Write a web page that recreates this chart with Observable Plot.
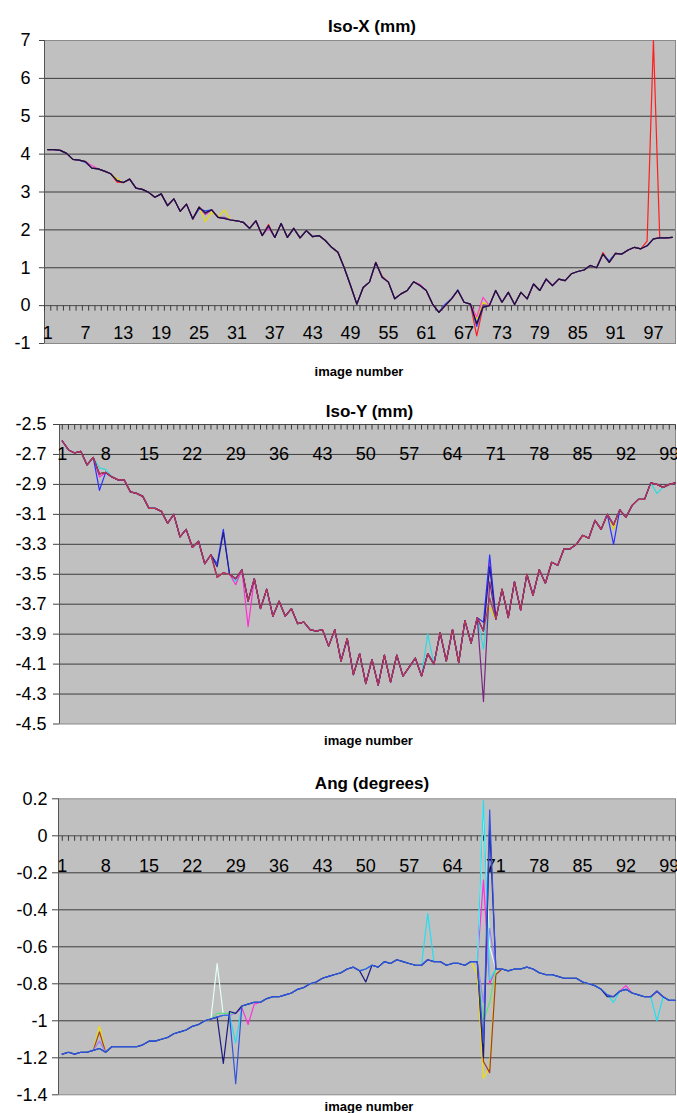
<!DOCTYPE html>
<html><head><meta charset="utf-8">
<script src="https://cdn.jsdelivr.net/npm/d3@7"></script>
<script src="https://cdn.jsdelivr.net/npm/@observablehq/plot@0.6"></script>
<style>body{margin:0;background:#fff;} #charts svg{display:block;}</style>
</head><body><div id="charts"></div>
<script>
// ---------- categories ----------
const imageNumber = d3.range(1, 101);

// ---------- Iso-X (mm) ----------
const isoXBase = [4.12,4.12,4.10,4.02,3.86,3.84,3.80,3.63,3.61,3.55,
 3.48,3.30,3.25,3.34,3.10,3.07,2.99,2.86,2.95,2.64,
 2.82,2.49,2.68,2.29,2.60,2.45,2.53,2.33,2.30,2.26,
 2.24,2.20,2.04,2.24,1.85,2.11,1.80,2.17,1.80,2.04,
 1.79,1.98,1.82,1.85,1.72,1.54,1.41,1.00,0.53,0.04,
 0.48,0.62,1.14,0.75,0.62,0.18,0.31,0.40,0.63,0.53,
 0.40,0.04,-0.18,0.00,0.18,0.40,0.09,0.04,-0.48,-0.04,
 0.00,0.40,0.09,0.35,0.03,0.35,0.18,0.57,0.40,0.70,
 0.53,0.70,0.66,0.84,0.90,0.94,1.06,1.00,1.36,1.14,
 1.38,1.36,1.47,1.54,1.50,1.58,1.76,1.79,1.79,1.80];
const isoXYellow  = [[12,3.35],[26,2.22],[27,2.47],[29,2.52],[69,-0.35],[70,0.08]];
const isoXMagenta = [[8,3.70],[26,2.40],[36,2.05],[60,0.56],[69,-0.30],[70,0.22]];
const isoXRed     = [[12,3.26],[36,2.14],[54,0.78],[69,-0.80],[89,1.40],[96,1.70],[97,7.00],[98,1.80]];
const isoXBlue    = [[7,3.78],[25,2.55],[26,2.50],[64,0.04],[66,0.42],[69,-0.55],[90,1.18]];
const isoXPurple  = [[26,2.42],[29,2.33],[70,0.02]];
const isoXYTicks = [-1,0,1,2,3,4,5,6,7];
const isoXGrid = [1,2,3,4,5,6];
const isoXLabels = [1,7,13,19,25,31,37,43,49,55,61,67,73,79,85,91,97];

// ---------- Iso-Y (mm) ----------
const isoYBase = [-2.61,-2.67,-2.69,-2.68,-2.77,-2.72,-2.83,-2.82,-2.85,-2.87,
 -2.87,-2.95,-2.96,-2.98,-3.06,-3.06,-3.08,-3.16,-3.10,-3.25,
 -3.20,-3.32,-3.28,-3.43,-3.37,-3.52,-3.49,-3.50,-3.53,-3.47,
 -3.68,-3.53,-3.73,-3.60,-3.78,-3.68,-3.78,-3.73,-3.83,-3.82,
 -3.87,-3.88,-3.87,-3.98,-3.87,-4.08,-3.93,-4.17,-4.03,-4.23,
 -4.07,-4.24,-4.04,-4.22,-4.04,-4.18,-4.12,-4.06,-4.18,-4.03,
 -4.10,-3.89,-4.08,-3.87,-4.09,-3.81,-3.96,-3.79,-3.88,-3.66,
 -3.80,-3.60,-3.79,-3.55,-3.74,-3.50,-3.64,-3.47,-3.56,-3.42,
 -3.44,-3.33,-3.33,-3.30,-3.24,-3.26,-3.14,-3.20,-3.10,-3.17,
 -3.07,-3.12,-3.04,-3.00,-3.00,-2.89,-2.90,-2.92,-2.90,-2.89];
const isoYYellow  = [[69,-3.82],[70,-3.72],[90,-3.20]];
const isoYCyan    = [[7,-2.79],[8,-2.80],[29,-3.55],[60,-3.90],[69,-4.00],[97,-2.96]];
const isoYMagenta = [[7,-2.85],[29,-3.57],[31,-3.85],[70,-3.42]];
const isoYBlue    = [[7,-2.94],[26,-3.43],[27,-3.20],[69,-3.82],[70,-3.37],[90,-3.30]];
const isoYNavy    = [[26,-3.45],[27,-3.22],[70,-3.45]];
const isoYPurple  = [[69,-4.35],[70,-3.55]];
const isoYYTicks = [-2.5,-2.7,-2.9,-3.1,-3.3,-3.5,-3.7,-3.9,-4.1,-4.3,-4.5];
const isoYGrid = [-2.7,-2.9,-3.1,-3.3,-3.5,-3.7,-3.9,-4.1,-4.3];
const isoYLabels = [1,8,15,22,29,36,43,50,57,64,71,78,85,92,99];

// ---------- Ang (degrees) ----------
const angBase = [-1.18,-1.17,-1.18,-1.17,-1.17,-1.16,-1.15,-1.17,-1.14,-1.14,
 -1.14,-1.14,-1.14,-1.13,-1.11,-1.11,-1.10,-1.09,-1.07,-1.06,
 -1.05,-1.03,-1.02,-1.00,-0.99,-0.98,-0.97,-0.97,-0.96,-0.92,
 -0.91,-0.90,-0.90,-0.88,-0.87,-0.87,-0.86,-0.85,-0.83,-0.82,
 -0.80,-0.79,-0.77,-0.76,-0.75,-0.74,-0.72,-0.71,-0.73,-0.72,
 -0.70,-0.71,-0.68,-0.69,-0.67,-0.68,-0.69,-0.70,-0.70,-0.67,
 -0.68,-0.68,-0.70,-0.69,-0.69,-0.70,-0.68,-0.68,-0.70,-0.72,
 -0.72,-0.72,-0.73,-0.72,-0.72,-0.71,-0.72,-0.74,-0.75,-0.75,
 -0.76,-0.77,-0.77,-0.77,-0.79,-0.80,-0.81,-0.83,-0.86,-0.87,
 -0.84,-0.83,-0.85,-0.86,-0.87,-0.87,-0.84,-0.87,-0.89,-0.89];
const angYellow    = [[7,-1.03],[68,-0.75],[69,-1.31],[70,-1.25]];
const angMaroon    = [[7,-1.06],[69,-1.22],[70,-1.28],[71,-0.75]];
const angMagenta   = [[30,-0.93],[31,-1.02],[32,-0.91],[69,-0.24],[70,-0.80],[92,-0.81]];
const angPaleCyan  = [[26,-0.69],[69,0.15],[70,-0.60]];
const angCyan      = [[29,-1.12],[60,-0.42],[69,0.19],[70,-0.78],[90,-0.90],[97,-1.00]];
const angGreen     = [[26,-0.96],[27,-0.96],[28,-0.96],[69,-1.00],[70,-0.90]];
const angLavender  = [[7,-1.11],[69,-0.90],[70,-0.50]];
const angNavy      = [[27,-1.23],[28,-0.95],[50,-0.79],[69,-1.20],[70,0.05],[89,-0.87]];
const angBlue      = [[29,-1.34],[69,-1.12],[70,0.14]];
const angYTicks = [0.2,0,-0.2,-0.4,-0.6,-0.8,-1,-1.2,-1.4];
const angGrid = [-0.2,-0.4,-0.6,-0.8,-1,-1.2];
const angLabels = [1,8,15,22,29,36,43,50,57,64,71,78,85,92,99];

// ---------- helpers ----------
function rows(base, dev) {
  const m = new Map(dev || []);
  return imageNumber.map((n, k) => ({n, v: m.has(n) ? m.get(n) : base[k]}));
}

// a short downward tick drawn as a custom dot symbol
const tickDown = {draw(context) { context.moveTo(0, 0); context.lineTo(0, 5); }};

function makeChart(o) {
  const lines = o.series.map(s =>
    Plot.line(rows(o.base, s.dev), {x: "n", y: "v", stroke: s.color, strokeWidth: 1.2}));
  return Plot.plot({
    width: 677, height: o.height,
    marginTop: o.mt, marginBottom: o.mb, marginLeft: o.ml, marginRight: 2,
    x: {domain: o.xDomain, axis: null},
    y: {domain: o.yDomain, axis: null},
    style: {fontFamily: "'Liberation Sans', Arial, sans-serif", background: "#fff", overflow: "visible", color: "#000"},
    marks: [
      Plot.frame({fill: "#c0c0c0", stroke: "#8a8a8a"}),
      Plot.ruleY(o.grid, {stroke: "#3c3c3c", strokeWidth: 1}),
      Plot.ruleX([o.xDomain[0]], {stroke: "#555"}),
      Plot.ruleY([o.axisAt], {stroke: "#4a4a4a", strokeWidth: 1}),
      Plot.dot(o.xTicks, {x: d => d, y: o.axisAt, symbol: tickDown, r: 3, fill: "none", stroke: "#3a3a3a", strokeWidth: 1}),
      Plot.axisY(o.yTicks, {label: null, tickSize: o.tickSize, tickPadding: o.tickPadding, fontSize: 18,
        tickFormat: d => String(d), stroke: "#444", fill: "#000"}),
      Plot.text(o.xLabels, {x: d => d, y: o.axisAt, dy: o.labelDy, text: d => String(d), fontSize: 18, fill: "#000"}),
      ...lines,
      Plot.text([o.title], {text: d => d, frameAnchor: "top", lineAnchor: "middle", dx: o.titleDx, dy: o.titleDy,
        fontWeight: "bold", fontSize: 17, fill: "#000"}),
      Plot.text(["image number"], {text: d => d, frameAnchor: "bottom", lineAnchor: "middle", dx: o.xlabDx, dy: o.xlabDy,
        fontWeight: "bold", fontSize: 13, fill: "#000"})
    ]
  });
}

const host = document.getElementById("charts");

host.append(makeChart({
  height: 380, mt: 40, mb: 37, ml: 44,
  xDomain: [0.5, 100.5], yDomain: [-1, 7],
  base: isoXBase,
  series: [
    {color: "#e8dc00", dev: isoXYellow},
    {color: "#ff44c8", dev: isoXMagenta},
    {color: "#ff1e1e", dev: isoXRed},
    {color: "#2a44ff", dev: isoXBlue},
    {color: "#8a3aa0", dev: isoXPurple},
    {color: "#141434", dev: []}
  ],
  grid: isoXGrid, yTicks: isoXYTicks, tickSize: 5, tickPadding: 9,
  axisAt: 0, xTicks: d3.range(0.5, 101, 1), xLabels: isoXLabels, labelDy: 28,
  title: "Iso-X (mm)", titleDx: 12, titleDy: -14, xlabDx: -1, xlabDy: 28
}));

host.append(makeChart({
  height: 378, mt: 44, mb: 34.5, ml: 59,
  xDomain: [0.55, 100], yDomain: [-4.5, -2.5],
  base: isoYBase,
  series: [
    {color: "#e8d000", dev: isoYYellow},
    {color: "#30d8e0", dev: isoYCyan},
    {color: "#ff30d0", dev: isoYMagenta},
    {color: "#2a30ff", dev: isoYBlue},
    {color: "#202090", dev: isoYNavy},
    {color: "#7a2680", dev: isoYPurple},
    {color: "#b8384c", dev: []}
  ],
  grid: isoYGrid, yTicks: isoYYTicks, tickSize: 6, tickPadding: 7,
  axisAt: -2.5, xTicks: imageNumber, xLabels: isoYLabels, labelDy: 29.5,
  title: "Iso-Y (mm)", titleDx: 2, titleDy: -12.5, xlabDx: 1, xlabDy: 16.5
}));

host.append(makeChart({
  height: 355, mt: 40.3, mb: 18.7, ml: 58,
  xDomain: [0.39, 100], yDomain: [-1.4, 0.2],
  base: angBase,
  series: [
    {color: "#f0e000", dev: angYellow},
    {color: "#a04020", dev: angMaroon},
    {color: "#ff30e0", dev: angMagenta},
    {color: "#e4fff4", dev: angPaleCyan},
    {color: "#60e080", dev: angGreen},
    {color: "#a080ff", dev: angLavender},
    {color: "#20e0f0", dev: angCyan},
    {color: "#1a1a80", dev: angNavy},
    {color: "#3552dc", dev: angBlue}
  ],
  grid: angGrid, yTicks: angYTicks, tickSize: 6, tickPadding: 5,
  axisAt: 0, xTicks: imageNumber, xLabels: angLabels, labelDy: 30,
  title: "Ang (degrees)", titleDx: 5, titleDy: -15, xlabDx: 2, xlabDy: 12
}));
</script>
</body></html>
